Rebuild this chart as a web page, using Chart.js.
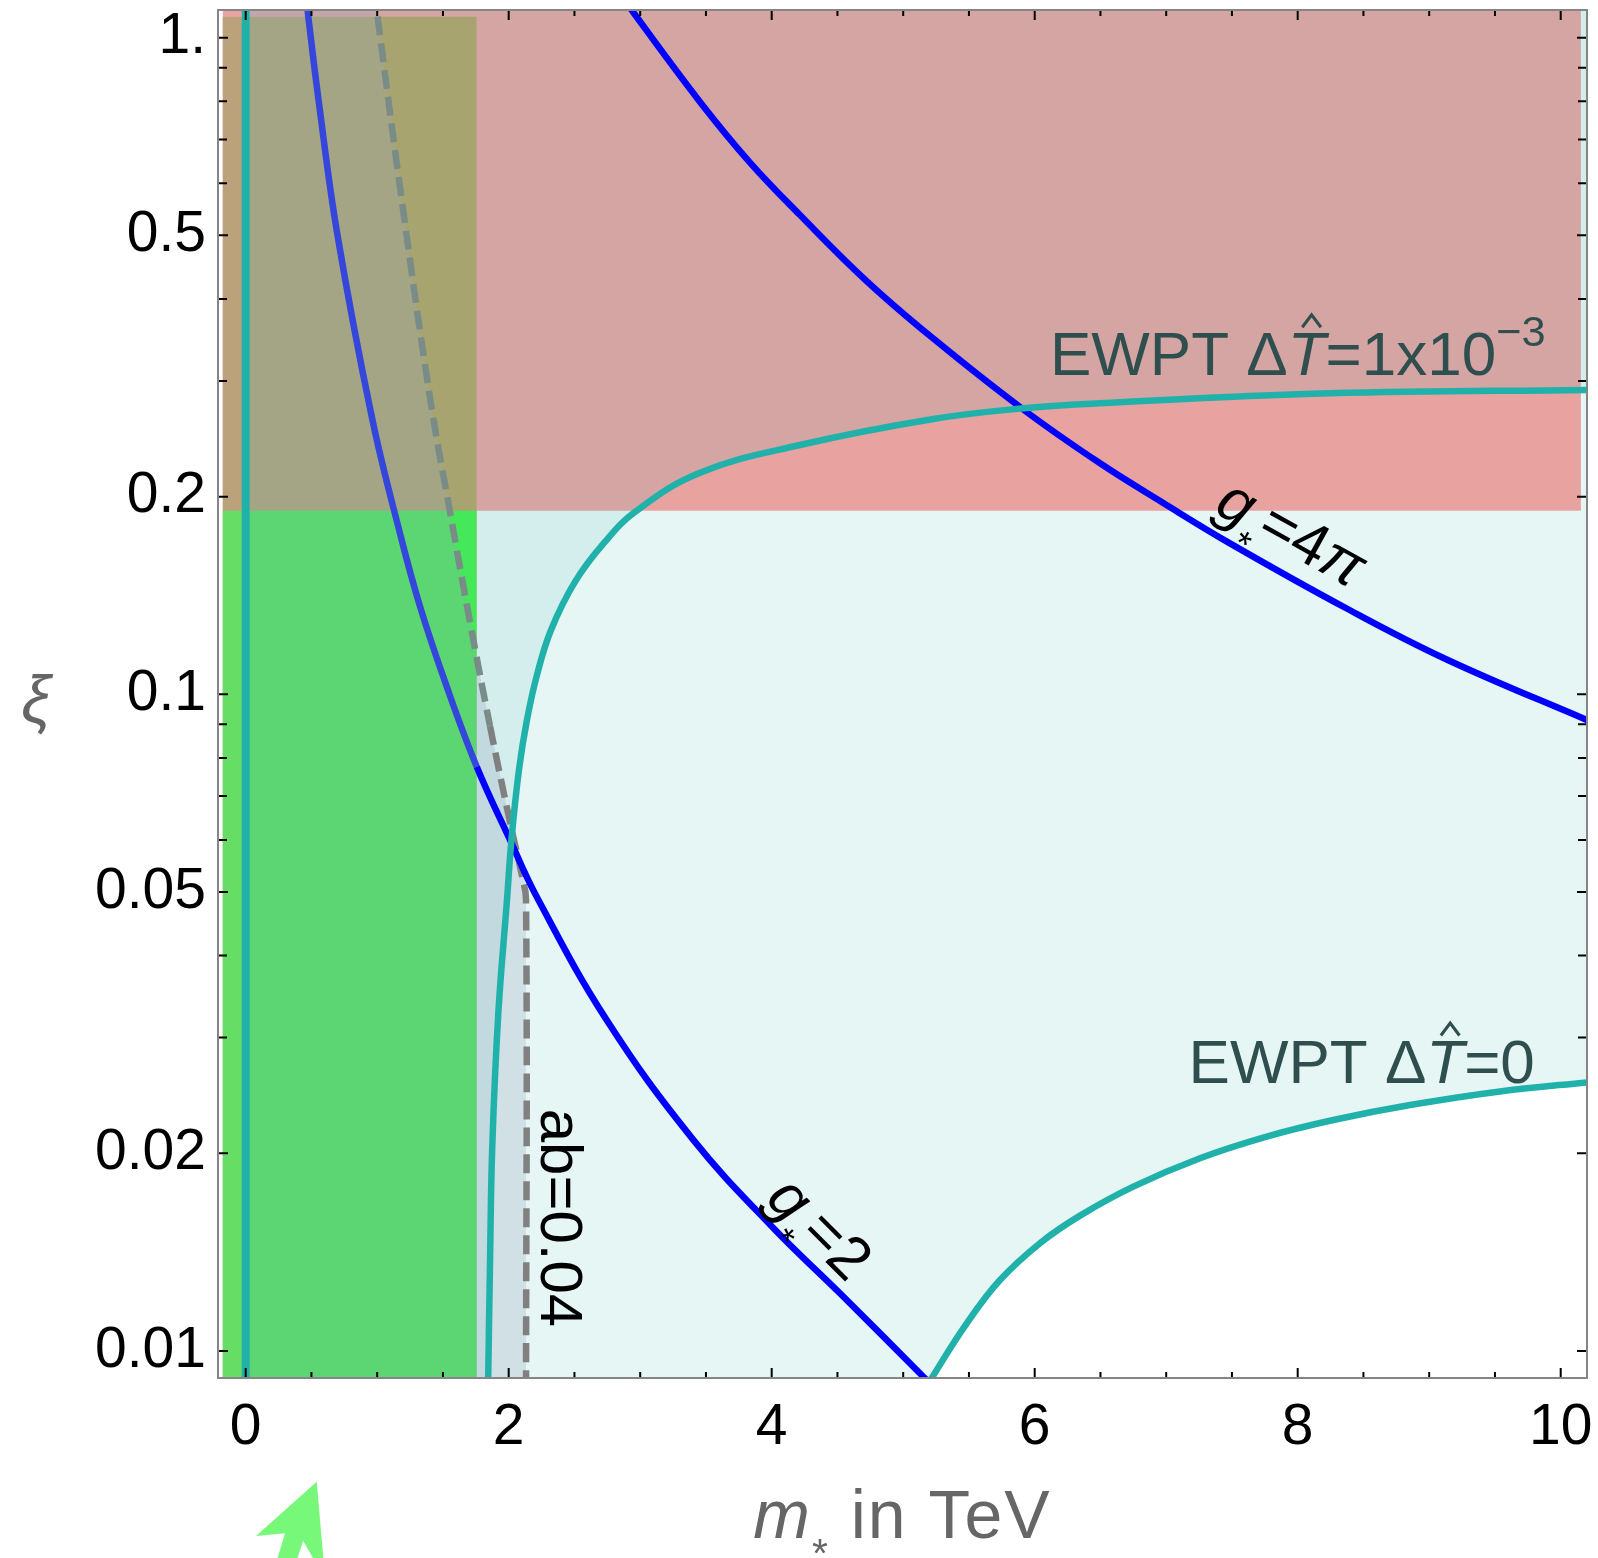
<!DOCTYPE html>
<html>
<head>
<meta charset="utf-8">
<script src="https://cdn.jsdelivr.net/npm/chart.js@4.4.0/dist/chart.umd.min.js"></script>
<style>
  html, body { margin: 0; padding: 0; background: #fff; }
  #wrap { width: 1598px; height: 1558px; position: relative; }
</style>
</head>
<body>
<div id="wrap"><canvas id="chart"></canvas></div>
<script>
// axes (m* in TeV, xi on a log axis)
const xMin = -0.2106, xMax = 10.2;
const yMin = 0.009093, yMax = 1.102;
const xTickValues = [0, 2, 4, 6, 8, 10];
const xMinorTicks = [0.5, 1, 1.5, 2.5, 3, 3.5, 4.5, 5, 5.5, 6.5, 7, 7.5, 8.5, 9, 9.5];
const yTickValues = [0.01, 0.02, 0.05, 0.1, 0.2, 0.5, 1];
const yTickLabels = ['0.01', '0.02', '0.05', '0.1', '0.2', '0.5', '1.'];
const yMinorTicks = [0.03, 0.04, 0.06, 0.07, 0.08, 0.09, 0.3, 0.4, 0.6, 0.7, 0.8, 0.9];

// EWPT  dT = 1x10^-3 (teal, upper)
const ewpt3X = [1.843, 1.858, 1.875, 1.921, 1.987, 2.021, 2.078, 2.139, 2.215, 2.322, 2.504, 2.725, 2.968, 3.455, 4.215, 5.229, 5.913, 6.497, 8.246, 10.25];
const ewpt3Y = [0.0088, 0.01366, 0.02046, 0.03266, 0.04862, 0.06001, 0.0767, 0.0914, 0.107, 0.1253, 0.1483, 0.17, 0.1901, 0.2175, 0.2397, 0.2626, 0.2726, 0.2775, 0.2873, 0.2908];
// EWPT  dT = 0 (teal, lower)
const ewpt0X = [5.18, 5.217, 5.483, 5.736, 6.04, 6.345, 6.75, 7.257, 7.764, 8.271, 8.854, 9.538, 10.25];
const ewpt0Y = [0.0088, 0.00909, 0.01101, 0.01282, 0.01459, 0.01607, 0.01779, 0.01965, 0.0212, 0.02247, 0.02368, 0.02484, 0.0257];
// g* = 2 (blue)
const gStar2X = [0.449, 0.47, 0.554, 0.698, 0.964, 1.173, 1.326, 1.529, 1.757, 2.01, 2.213, 2.745, 3.404, 4.012, 4.519, 5.153, 5.234];
const gStar2Y = [1.2, 1.102, 0.8038, 0.5004, 0.2617, 0.1759, 0.136, 0.1027, 0.07757, 0.06, 0.04916, 0.03191, 0.02096, 0.01539, 0.01224, 0.009134, 0.0088];
// g* = 4 pi (blue)
const gStar4piX = [2.81, 2.935, 3.455, 3.835, 4.215, 4.722, 5.229, 5.913, 6.497, 6.978, 7.485, 8.373, 9.133, 10.198, 10.3];
const gStar4piY = [1.2, 1.102, 0.7983, 0.6454, 0.537, 0.4259, 0.3481, 0.2715, 0.2248, 0.1956, 0.1698, 0.1351, 0.113, 0.0914, 0.0897];
// ab = 0.04 (grey dashed)
const abX = [0.949, 0.996, 1.173, 1.402, 1.554, 1.706, 1.858, 2.01, 2.101, 2.132, 2.1321];
const abY = [1.3, 1.102, 0.593, 0.2826, 0.1895, 0.1288, 0.08944, 0.06388, 0.05289, 0.04862, 0.0085];

// shaded bands
const xiFloor = 0.0085, xiCeil = 1.3;
const xiBandLow = 0.1904;           // lower edge of the red band
const xiBandX = [-0.176, 10.154];
const stripX = [-0.176, 0];         // green band, left of m* = 0
const greenX = [0, 1.757];          // green band
const greenTop = 1.0765;

const curveLabels = [
  { x: 6.116, y: 0.3064, angle: 0, anchor: 'left', size: 62, color: '#2f4f4f',
    runs: [['EWPT \u0394'], ['T', 'hat'], ['=1x10'], ['\u22123', 'sup']] },
  { x: 7.17, y: 0.02556, angle: 0, anchor: 'left', size: 62, color: '#2f4f4f',
    runs: [['EWPT \u0394'], ['T', 'hat'], ['=0']] },
  { x: 7.954, y: 0.1761, angle: 29, anchor: 'center', size: 61, color: '#000',
    runs: [['g', 'i'], ['*', 'sub'], ['=4'], ['\u03c0', 'i']] },
  { x: 4.367, y: 0.01539, angle: 45, anchor: 'center', size: 61, color: '#000',
    runs: [['g', 'i'], ['*', 'sub'], ['=2']] },
  { x: 2.398, y: 0.01594, angle: 90, anchor: 'center', size: 60, color: '#000',
    runs: [['ab=0.04']] }
];

const FONT = '"Liberation Sans", Arial, Helvetica, sans-serif';
const pts = (xs, ys) => xs.map((x, i) => ({ x, y: ys[i] }));

function runStyle(kind, size) {
  let s = size, dy = 0, it = '';
  if (kind === 'i' || kind === 'hat') it = 'italic ';
  if (kind === 'sup') { s = size * 0.7; dy = -size * 0.47; }
  if (kind === 'sub') { s = size * 0.6; dy = size * 0.42; }
  return { font: `${it}${s}px ${FONT}`, dy };
}
function runsWidth(ctx, runs, size) {
  let w = 0;
  runs.forEach(([t, kind]) => { ctx.font = runStyle(kind, size).font; w += ctx.measureText(t).width; });
  return w;
}
function drawRuns(ctx, runs, size, x0, y0) {
  let x = x0;
  runs.forEach(([t, kind]) => {
    const st = runStyle(kind, size);
    ctx.font = st.font;
    ctx.fillText(t, x, y0 + st.dy);
    const w = ctx.measureText(t).width;
    if (kind === 'hat') {
      const cx = x + w * 0.5 + size * 0.08;
      ctx.beginPath();
      ctx.moveTo(cx - size * 0.15, y0 - size * 0.77);
      ctx.lineTo(cx, y0 - size * 0.97);
      ctx.lineTo(cx + size * 0.15, y0 - size * 0.77);
      ctx.lineWidth = size * 0.05;
      ctx.strokeStyle = ctx.fillStyle;
      ctx.stroke();
    }
    x += w;
  });
}

// cursor-like arrow below the axis
const arrowShape = [[316.7, 1481.7], [256, 1536], [285, 1533.3], [277, 1560], [296.7, 1560], [303.3, 1540.7], [314, 1560], [323.5, 1560]];

const framePlugin = {
  id: 'frame',
  afterDatasetsDraw(chart) {
    const { ctx, chartArea: a, scales: { x, y } } = chart;
    ctx.save();
    // tick marks on all four sides, pointing inwards
    ctx.strokeStyle = '#000';
    ctx.lineWidth = 2;
    ctx.beginPath();
    const xt = (v, len) => {
      const p = x.getPixelForValue(v);
      ctx.moveTo(p, a.bottom); ctx.lineTo(p, a.bottom - len);
      ctx.moveTo(p, a.top); ctx.lineTo(p, a.top + len);
    };
    const yt = (v, len) => {
      const p = y.getPixelForValue(v);
      ctx.moveTo(a.left, p); ctx.lineTo(a.left + len, p);
      ctx.moveTo(a.right, p); ctx.lineTo(a.right - len, p);
    };
    xTickValues.forEach(v => xt(v, 10));
    xMinorTicks.forEach(v => xt(v, 6));
    yTickValues.forEach(v => yt(v, 10));
    yMinorTicks.forEach(v => yt(v, 9));
    ctx.stroke();
    ctx.strokeStyle = '#858585';
    ctx.lineWidth = 2;
    ctx.strokeRect(a.left, a.top, a.right - a.left, a.bottom - a.top);

    // curve labels
    curveLabels.forEach(l => {
      ctx.save();
      ctx.fillStyle = l.color;
      ctx.textBaseline = 'alphabetic';
      ctx.textAlign = 'left';
      ctx.translate(x.getPixelForValue(l.x), y.getPixelForValue(l.y));
      ctx.rotate(l.angle * Math.PI / 180);
      const w = runsWidth(ctx, l.runs, l.size);
      if (l.anchor === 'left') drawRuns(ctx, l.runs, l.size, 0, 0);
      else drawRuns(ctx, l.runs, l.size, -w / 2, l.size * 0.33);
      ctx.restore();
    });

    // axis titles
    ctx.fillStyle = '#666666';
    ctx.textBaseline = 'alphabetic';
    ctx.textAlign = 'left';
    ctx.letterSpacing = '2px';
    const xTitle = [['m', 'i'], ['*', 'sub'], [' in TeV']];
    const tw = runsWidth(ctx, xTitle, 68);
    drawRuns(ctx, xTitle, 68, (a.left + a.right) / 2 - tw / 2, a.bottom + 160);
    ctx.letterSpacing = '0px';
    ctx.font = `italic 66px ${FONT}`;
    ctx.textAlign = 'center';
    ctx.fillText('\u03be', 36, 723);

    // arrow
    ctx.fillStyle = '#78f878';
    ctx.beginPath();
    arrowShape.forEach(([px, py], i) => (i ? ctx.lineTo(px, py) : ctx.moveTo(px, py)));
    ctx.closePath();
    ctx.fill();
    ctx.restore();
  }
};

const insideGreen = c => c.p0.parsed.x < greenX[1] - 0.001;

// filled regions (monotone, so the outlines never overshoot sideways)
const regions = [
  { label: 'EWPT region', data: [{ x: 0, y: xiFloor }, ...pts(ewpt0X, ewpt0Y)],
    backgroundColor: '#e6f6f5', fill: 'end', order: 100 },
  { label: 'xi band', data: pts(xiBandX, [xiBandLow, xiBandLow]),
    backgroundColor: '#e8a3a0', fill: 'end', order: 90 },
  { label: 'beyond 1e-3', data: [{ x: 0, y: xiFloor }, ...pts(ewpt3X, ewpt3Y)],
    backgroundColor: 'rgba(76,180,181,0.12)', fill: 'end', order: 80 },
  { label: 'green strip top', data: pts(stripX, [greenTop, greenTop]),
    backgroundColor: '#bba27a', fill: 'start', order: 75 },
  { label: 'green top', data: pts(greenX, [greenTop, greenTop]),
    backgroundColor: '#a8a470', fill: 'start', order: 74 },
  { label: 'green strip', data: pts(stripX, [xiBandLow, xiBandLow]),
    backgroundColor: '#66de66', fill: 'start', order: 73 },
  { label: 'green', data: pts(greenX, [xiBandLow, xiBandLow]),
    backgroundColor: '#44e858', fill: 'start', order: 72 },
  { label: 'ab < 0.04', data: [{ x: 0, y: xiCeil }, ...pts(abX, abY)],
    backgroundColor: 'rgba(150,168,185,0.28)', fill: 'start', order: 60 }
];
regions.forEach(d => { d.borderWidth = 0; d.cubicInterpolationMode = 'monotone'; });

// drawn curves (smooth bezier through the read points)
const curves = [
  { label: 'ab=0.04', data: pts(abX, abY), borderColor: '#808080', borderWidth: 6.5, borderDash: [19, 8],
    order: 50, segment: { borderColor: c => insideGreen(c) ? '#7a8c88' : '#808080' } },
  { label: 'g*=2', data: pts(gStar2X, gStar2Y), borderColor: '#0000ff', borderWidth: 6.5,
    order: 40, segment: { borderColor: c => insideGreen(c) ? '#3446dc' : '#0000ff' } },
  { label: 'g*=4pi', data: pts(gStar4piX, gStar4piY), borderColor: '#0000ff', borderWidth: 6.5, order: 40 },
  { label: 'EWPT 1e-3', data: pts(ewpt3X, ewpt3Y), borderColor: '#20b2aa', borderWidth: 6.5, order: 30 },
  { label: 'EWPT 0', data: pts(ewpt0X, ewpt0Y), borderColor: '#20b2aa', borderWidth: 6.5, order: 30 },
  { label: 'm*=0', data: pts([0, 0], [xiFloor, xiCeil]), borderColor: '#20b2aa', borderWidth: 8, order: 20 }
];
curves.forEach(d => { d.fill = false; d.tension = 0.4; });

const datasets = [...regions, ...curves];
datasets.forEach(d => { d.pointRadius = 0; d.clip = 0; });

new Chart(document.getElementById('chart'), {
  type: 'line',
  data: { datasets },
  options: {
    responsive: true,
    maintainAspectRatio: false,
    animation: false,
    layout: { padding: { top: 10, right: 11, left: 0, bottom: 0 } },
    plugins: { legend: { display: false }, tooltip: { enabled: false } },
    scales: {
      x: {
        type: 'linear', min: xMin, max: xMax,
        afterBuildTicks: s => { s.ticks = xTickValues.map(v => ({ value: v })); },
        afterFit: s => { s.height = 180; s.paddingLeft = 0; s.paddingRight = 0; },
        grid: { display: false, drawTicks: false },
        border: { display: false },
        ticks: { color: '#000', padding: 16, maxRotation: 0, autoSkip: false,
                 font: { family: FONT, size: 57 }, callback: v => String(v) }
      },
      y: {
        type: 'logarithmic', min: yMin, max: yMax,
        afterBuildTicks: s => { s.ticks = yTickValues.map(v => ({ value: v })); },
        afterFit: s => { s.width = 218; s.paddingTop = 0; s.paddingBottom = 0; },
        grid: { display: false, drawTicks: false },
        border: { display: false },
        ticks: { color: '#000', padding: 12, autoSkip: false,
                 font: { family: FONT, size: 57 }, callback: (v, i) => yTickLabels[i] }
      }
    }
  },
  plugins: [framePlugin]
});
</script>
</body>
</html>
